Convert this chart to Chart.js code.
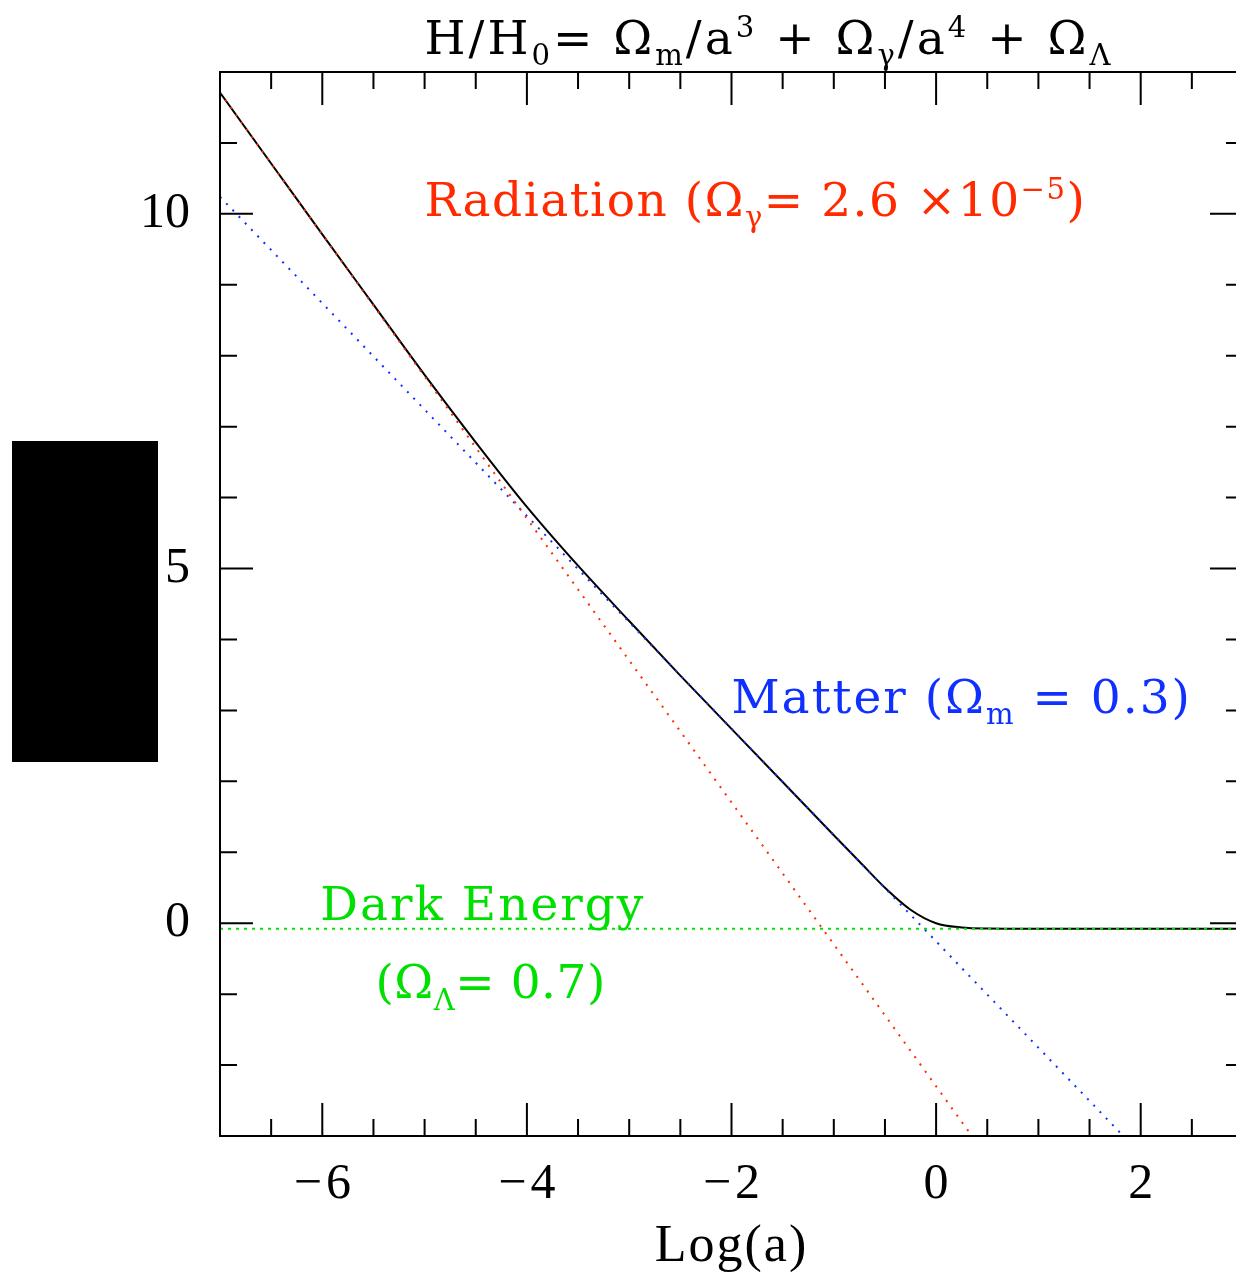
<!DOCTYPE html>
<html>
<head>
<meta charset="utf-8">
<script src="https://cdn.jsdelivr.net/npm/chart.js@4.4.1/dist/chart.umd.min.js"></script>
<style>
  html, body { margin: 0; padding: 0; background: #fff; overflow: hidden; }
  #wrap { position: relative; width: 1236px; height: 1273px; overflow: hidden; }
  #hubbleChart { position: absolute; left: 0; top: 0; }
  #redact { position: absolute; left: 12px; top: 441px; width: 146px; height: 321px; background: #000; }
</style>
</head>
<body>
<div id="wrap">
  <canvas id="hubbleChart" width="1260" height="1273"></canvas>
  <div id="redact"></div>
</div>
<script>
// Log(a) sample points for the total curve
var logA = [-7, -6.5, -6, -5.5, -5, -4.5, -4, -3.5, -3, -2.5, -2, -1.5, -1, -0.75, -0.5, -0.25, 0, 0.25, 0.5, 0.75, 1, 2, 3];
var totalH = [11.71, 10.71, 9.71, 8.72, 7.73, 6.78, 5.87, 5.04, 4.26, 3.49, 2.74, 1.99, 1.24, 0.87, 0.50, 0.19, 0.00, -0.06, -0.075, -0.077, -0.077, -0.078, -0.078];

// straight asymptote lines (end points)
var radiationX = [-7, 0.35];
var radiationY = [11.71, -3];
var matterX = [-7, 1.83];
var matterY = [10.24, -3];
var darkX = [-7, 3];
var darkY = [-0.077, -0.077];

// axes
var xMajorTicks = [-6, -4, -2, 0, 2];
var xMinorTicks = [-6.5, -5.5, -5, -4.5, -3.5, -3, -2.5, -1.5, -1, -0.5, 0.5, 1, 1.5, 2.5];
var yMajorTicks = [0, 5, 10];
var yMinorTicks = [-2, -1, 1, 2, 3, 4, 6, 7, 8, 9, 11];
var xLabel = 'Log(a)';

function pts(xs, ys) {
    return xs.map(function(x, i) { return { x: x, y: ys[i] }; });
}

var NUMFONT = '"Liberation Serif", serif';
var FONT = '"DejaVu Serif", serif';

// draw text made of [text, 'n'|'sub'|'sup'] pieces
function drawRich(ctx, parts, x, y, size, color, spacing) {
    ctx.save();
    ctx.fillStyle = color;
    ctx.textBaseline = 'alphabetic';
    ctx.textAlign = 'left';
    ctx.letterSpacing = (spacing || 0) + 'px';
    parts.forEach(function(p) {
        var s = size, dy = 0;
        if (p[1] === 'sub') { s = size * 0.62; dy = size * 0.24; }
        if (p[1] === 'sup') { s = size * 0.62; dy = -size * 0.36; }
        ctx.font = s + 'px ' + FONT;
        ctx.fillText(p[0], x, y + dy);
        x += ctx.measureText(p[0]).width;
    });
    ctx.restore();
}

var frame = {
    id: 'frame',
    afterDraw: function(chart) {
        var ctx = chart.ctx, a = chart.chartArea;
        var xs = chart.scales.x, ys = chart.scales.y;
        ctx.save();
        ctx.strokeStyle = '#000';
        ctx.lineWidth = 2;
        ctx.strokeRect(a.left, a.top, a.right - a.left, a.bottom - a.top);

        function xTick(v, len) {
            var p = xs.getPixelForValue(v);
            ctx.beginPath();
            ctx.moveTo(p, a.bottom); ctx.lineTo(p, a.bottom - len);
            ctx.moveTo(p, a.top); ctx.lineTo(p, a.top + len);
            ctx.stroke();
        }
        function yTick(v, len) {
            var p = ys.getPixelForValue(v);
            ctx.beginPath();
            ctx.moveTo(a.left, p); ctx.lineTo(a.left + len, p);
            ctx.moveTo(a.right, p); ctx.lineTo(a.right - len, p);
            ctx.stroke();
        }
        xMinorTicks.forEach(function(v) { xTick(v, 17); });
        xMajorTicks.forEach(function(v) { xTick(v, 33); });
        yMinorTicks.forEach(function(v) { yTick(v, 17); });
        yMajorTicks.forEach(function(v) { yTick(v, 33); });

        ctx.fillStyle = '#000';
        ctx.font = '50px ' + NUMFONT;
        ctx.textAlign = 'center';
        ctx.textBaseline = 'alphabetic';
        xMajorTicks.forEach(function(v) {
            var txt = String(v).replace('-', '\u2212');
            ctx.letterSpacing = txt.length > 1 ? '4px' : '0px';
            ctx.fillText(txt, xs.getPixelForValue(v) + (txt.length > 1 ? 2 : 0), a.bottom + 62);
        });
        ctx.letterSpacing = '0px';
        ctx.textAlign = 'right';
        ctx.textBaseline = 'middle';
        yMajorTicks.forEach(function(v) {
            ctx.fillText(String(v), a.left - 30, ys.getPixelForValue(v));
        });
        ctx.textAlign = 'center';
        ctx.textBaseline = 'alphabetic';
        ctx.font = '52px ' + NUMFONT;
        ctx.letterSpacing = '2px';
        ctx.fillText(xLabel, (a.left + a.right) / 2, a.bottom + 125);
        ctx.restore();

        drawRich(ctx, [['H/H', 'n'], ['0', 'sub'], ['= \u03a9', 'n'], ['m', 'sub'], ['/a', 'n'], ['3', 'sup'],
            [' + \u03a9', 'n'], ['\u03b3', 'sub'], ['/a', 'n'], ['4', 'sup'], [' + \u03a9', 'n'], ['\u039b', 'sub']],
            xs.getPixelForValue(-5.0), a.top - 18, 47, '#000', 3);
        drawRich(ctx, [['Radiation (\u03a9', 'n'], ['\u03b3', 'sub'], ['= 2.6 \u00d710', 'n'], ['\u22125', 'sup'], [')', 'n']],
            xs.getPixelForValue(-5.0), ys.getPixelForValue(9.97), 47, '#ff2a00', 1.5);
        drawRich(ctx, [['Matter (\u03a9', 'n'], ['m', 'sub'], [' = 0.3)', 'n']],
            xs.getPixelForValue(-2.0), ys.getPixelForValue(2.97), 47, '#1030ff', 2);
        drawRich(ctx, [['Dark Energy', 'n']],
            xs.getPixelForValue(-6.02), ys.getPixelForValue(0.04), 47, '#00e000', 2);
        drawRich(ctx, [['(\u03a9', 'n'], ['\u039b', 'sub'], ['= 0.7)', 'n']],
            xs.getPixelForValue(-5.48), ys.getPixelForValue(-1.06), 47, '#00e000', 0.5);
    }
};

var ctx = document.getElementById('hubbleChart').getContext('2d');

var hubbleChart = new Chart(ctx, {
    type: 'line',
    data: {
        datasets: [{
            label: 'Dark Energy',
            data: pts(darkX, darkY),
            borderColor: '#00e000',
            borderWidth: 2,
            borderDash: [3, 5],
            pointRadius: 0
        }, {
            label: 'Radiation',
            data: pts(radiationX, radiationY),
            borderColor: '#ff2a00',
            borderWidth: 2,
            borderDash: [2, 7],
            pointRadius: 0
        }, {
            label: 'Matter',
            data: pts(matterX, matterY),
            borderColor: '#1030ff',
            borderWidth: 2,
            borderDash: [2, 7],
            pointRadius: 0
        }, {
            label: 'Total',
            data: pts(logA, totalH),
            borderColor: '#000',
            borderWidth: 2,
            pointRadius: 0,
            cubicInterpolationMode: 'monotone'
        }]
    },
    options: {
        responsive: false,
        animation: false,
        layout: { padding: { left: 220, top: 72, right: 17, bottom: 137 } },
        plugins: { legend: { display: false }, tooltip: { enabled: false } },
        scales: {
            x: { type: 'linear', min: -7, max: 3, display: false },
            y: { type: 'linear', min: -3, max: 12, display: false }
        }
    },
    plugins: [frame]
});
</script>
</body>
</html>
